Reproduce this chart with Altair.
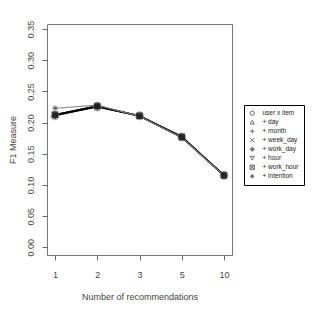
import altair as alt
import pandas as pd

ks = ["1", "2", "3", "5", "10"]
series = ["user x item", "+ day", "+ month", "+ week_day", "+ work_day",
          "+ hour", "+ work_hour", "+ intention"]
vals = {
    "user x item": [0.211, 0.225, 0.211, 0.177, 0.115],
    "+ day":       [0.212, 0.226, 0.210, 0.176, 0.115],
    "+ month":     [0.213, 0.227, 0.211, 0.177, 0.116],
    "+ week_day":  [0.212, 0.226, 0.210, 0.177, 0.115],
    "+ work_day":  [0.211, 0.226, 0.211, 0.178, 0.115],
    "+ hour":      [0.212, 0.225, 0.210, 0.176, 0.115],
    "+ work_hour": [0.213, 0.227, 0.211, 0.177, 0.116],
    "+ intention": [0.223, 0.228, 0.210, 0.176, 0.115],
}
shapes = [
    "circle",
    "triangle-up",
    "M0,-1L0,1M-1,0L1,0",
    "M-1,-1L1,1M-1,1L1,-1",
    "M0,-1L1,0L0,1L-1,0Z M0,-1L0,1M-1,0L1,0",
    "triangle-down",
    "M-1,-1L1,-1L1,1L-1,1Z M-1,-1L1,1M-1,1L1,-1",
    "M0,-1L0,1M-1,0L1,0M-0.7,-0.7L0.7,0.7M-0.7,0.7L0.7,-0.7",
]
line_colors = ["#333333", "#000000", "#000000", "#444444", "#000000",
               "#000000", "#000000", "#888888"]

rows = []
for si, s in enumerate(series):
    for k, v in zip(ks, vals[s]):
        rows.append({"k": k, "f1": v, "series": s, "line_id": s})
df = pd.DataFrame(rows)

font = "Liberation Sans"
tc = "#444444"

x = alt.X("k:O", sort=ks, scale=alt.Scale(type="point", padding=0.19),
          axis=alt.Axis(title="Number of recommendations", labelAngle=0,
                        tickSize=5, labelPadding=10, titlePadding=13,
                        domain=False, tickColor="#666666"))
y = alt.Y("f1:Q", scale=alt.Scale(domain=[-0.0123, 0.358], nice=False, zero=False),
          axis=alt.Axis(title="F1 Measure", values=[0, 0.05, 0.1, 0.15, 0.2, 0.25, 0.3, 0.35],
                        format=".2f", labelAngle=270, labelAlign="center",
                        labelBaseline="bottom", tickSize=5, labelPadding=7,
                        titlePadding=9, domain=False, tickColor="#666666"))

lines = alt.Chart(df).mark_line(strokeWidth=1.1).encode(
    x=x, y=y,
    detail="line_id:N",
    color=alt.Color("line_id:N", scale=alt.Scale(domain=series, range=line_colors), legend=None),
)

halo = alt.Chart(df).transform_filter(alt.datum.series == series[0]).mark_point(
    filled=False, size=60, strokeWidth=1.3, color="#888888", shape="circle"
).encode(x=x, y=y)

points = alt.Chart(df).mark_point(filled=False, size=30, strokeWidth=1, color="#222222").encode(
    x=x, y=y,
    shape=alt.Shape("series:N", scale=alt.Scale(domain=series, range=shapes),
                    legend=alt.Legend(title=None, orient="none", legendX=197, legendY=81,
                                      fillColor="white", strokeColor="black", padding=5,
                                      labelFontSize=6.5, labelFont=font, labelColor="#222222",
                                      symbolSize=18, symbolStrokeColor="black",
                                      symbolFillColor="transparent", symbolStrokeWidth=0.8,
                                      rowPadding=1, labelOffset=7)),
)

chart = alt.layer(lines, halo, points).resolve_legend(shape="independent").properties(
    width=185, height=231,
    autosize="none",
    padding={"left": 39, "top": 16, "right": 76, "bottom": 53},
).configure_view(stroke="#777777", strokeWidth=1).configure_axis(
    grid=False, labelFont=font, titleFont=font, labelFontSize=9, titleFontSize=9,
    labelColor=tc, titleColor=tc, titleFontWeight="normal",
)

chart.save("out.html", embed_options={"renderer": "svg", "actions": False})
